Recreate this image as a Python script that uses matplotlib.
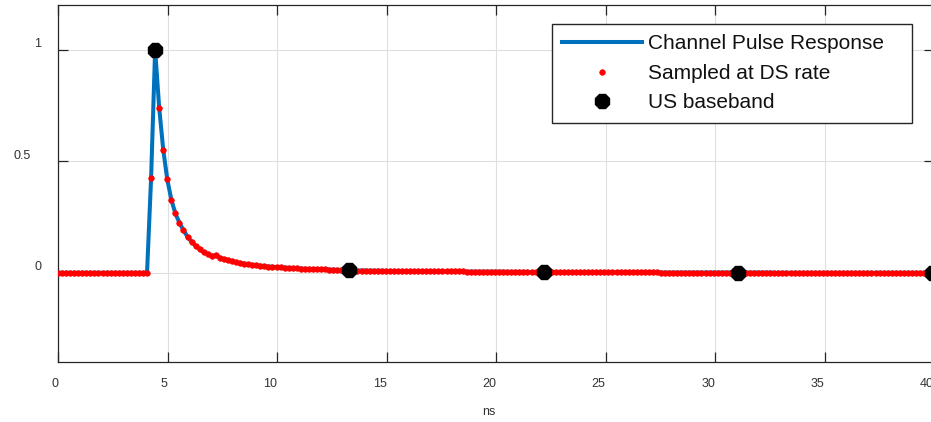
import numpy as np
import matplotlib
matplotlib.use("Agg")
import matplotlib.pyplot as plt
from matplotlib.transforms import ScaledTranslation

plt.rcParams['font.family'] = ['Liberation Sans', 'DejaVu Sans']

# Downstream sample period (ns); 48 DS samples per upstream symbol
ds_period = 0.1848
us_step = 48
us_first = 24

# Channel pulse response sampled at the DS rate, starting at t = 0
pulse = [
    0.000, 0.000, 0.000, 0.000, 0.000, 0.000, 0.000, 0.000, 0.000, 0.000, 0.000, 0.000,
    0.000, 0.000, 0.000, 0.000, 0.000, 0.000, 0.000, 0.000, 0.000, 0.000, 0.000, 0.423,
    1.000, 0.740, 0.552, 0.418, 0.328, 0.266, 0.224, 0.191, 0.161, 0.139, 0.121, 0.105,
    0.093, 0.083, 0.075, 0.079, 0.068, 0.061, 0.056, 0.051, 0.047, 0.044, 0.041, 0.038,
    0.036, 0.034, 0.032, 0.030, 0.028, 0.027, 0.025, 0.024, 0.023, 0.022, 0.021, 0.020,
    0.019, 0.018, 0.017, 0.017, 0.016, 0.015, 0.015, 0.014, 0.014, 0.013, 0.012, 0.012,
    0.011, 0.011, 0.010, 0.010, 0.010, 0.009, 0.009, 0.009, 0.009, 0.008, 0.008, 0.008,
    0.008, 0.007, 0.007, 0.007, 0.007, 0.007, 0.007, 0.007, 0.006, 0.006, 0.006, 0.006,
    0.006, 0.006, 0.006, 0.006, 0.006, 0.005, 0.005, 0.005, 0.005, 0.005, 0.005, 0.005,
    0.005, 0.005, 0.005, 0.004, 0.004, 0.004, 0.004, 0.004, 0.004, 0.003, 0.003, 0.003,
    0.003, 0.003, 0.003, 0.003, 0.003, 0.003, 0.003, 0.003, 0.002, 0.002, 0.002, 0.002,
    0.002, 0.002, 0.002, 0.002, 0.002, 0.002, 0.002, 0.002, 0.002, 0.002, 0.002, 0.002,
    0.002, 0.002, 0.002, 0.002, 0.002, 0.001, 0.001, 0.001, 0.001, 0.001, 0.001, 0.001,
    0.001, 0.001, 0.001, 0.001, 0.001, 0.001, 0.001, 0.001, 0.001, 0.001, 0.001, 0.001,
    0.001, 0.001, 0.001, 0.001, 0.001, 0.001, 0.001, 0.001, 0.001, 0.000, 0.000, 0.000,
    0.000, 0.000, 0.000, 0.000, 0.000, 0.000, 0.000, 0.000, 0.000, 0.000, 0.000, 0.000,
    0.000, 0.000, 0.000, 0.000, 0.000, 0.000, 0.000, 0.000, 0.000, 0.000, 0.000, 0.000,
    0.000, 0.000, 0.000, 0.000, 0.000, 0.000, 0.000, 0.000, 0.000, 0.000, 0.000, 0.000,
    0.000,
]

series_labels = ["Channel Pulse Response", "Sampled at DS rate", "US baseband"]
x_ticks = [0, 5, 10, 15, 20, 25, 30, 35, 40]
y_ticks = [0, 0.5, 1]
y_tick_labels = ["0", "0.5", "1"]
x_label = "ns"

pulse = np.array(pulse)
t = np.arange(len(pulse)) * ds_period
t_us = t[us_first::us_step]
v_us = pulse[us_first::us_step]

W, H = 931, 422
fig = plt.figure(figsize=(W / 100, H / 100), dpi=100)
ax = fig.add_axes([58 / W, 1 - 362 / H, (934 - 58) / W, (362 - 5) / H])

ax.plot(t, pulse, color='#0072BD', lw=2.9, zorder=3, label=series_labels[0])
ax.plot(t, pulse, ls='none', marker='o', ms=4.0, color='#FF0000', mec='#FF0000',
        mew=0.5, zorder=4, label=series_labels[1])
ax.plot(t_us, v_us, ls='none', marker='8', ms=11.5, color='black', mec='black',
        mew=1, zorder=5, label=series_labels[2])

ax.set_xlim(0, 40)
ax.set_ylim(-0.4, 1.2)
ax.set_xticks(x_ticks)
ax.set_xticklabels([str(v) for v in x_ticks])
ax.set_yticks(y_ticks)
ax.set_yticklabels(y_tick_labels)

ax.grid(True, color='#DFDFDF', lw=0.8, zorder=0)
ax.set_axisbelow(True)

spine_col = '#262626'
for s in ax.spines.values():
    s.set_color(spine_col)
    s.set_linewidth(0.9)

ax.tick_params(axis='both', which='major', direction='in', length=7, width=0.9,
               color=spine_col, labelcolor='#333333', labelsize=9,
               top=True, right=True)
ax.tick_params(axis='x', pad=11.5)
ax.tick_params(axis='y', pad=12)
for lab in ax.get_xticklabels():
    lab.set_horizontalalignment('right')
for tick in ax.yaxis.get_major_ticks():
    lab = tick.label1
    lab.set_verticalalignment('bottom')
    if lab.get_text() == "0.5":
        lab.set_transform(lab.get_transform()
                          + ScaledTranslation(-0.11, -0.01, fig.dpi_scale_trans))

ax.annotate(x_label, xy=(0.5, 0), xycoords='axes fraction', xytext=(0, -50),
            textcoords='offset pixels', ha='right', va='center', fontsize=9,
            color='#333333')

leg_h = 0.01
leg = ax.legend(loc='upper left',
                bbox_to_anchor=(552 / W, 1 - 24 / H - leg_h, (912 - 552) / W, leg_h),
                bbox_transform=fig.transFigure, mode='expand', borderaxespad=0,
                fontsize=15, frameon=True, fancybox=False, borderpad=0.5,
                handlelength=3.8, handletextpad=0.3, labelspacing=0.5,
                markerscale=1.0)
frame = leg.get_frame()
frame.set_edgecolor(spine_col)
frame.set_linewidth(1.0)
frame.set_alpha(1)
for txt in leg.get_texts():
    txt.set_color('#111111')

fig.savefig("out.png", dpi=100)
